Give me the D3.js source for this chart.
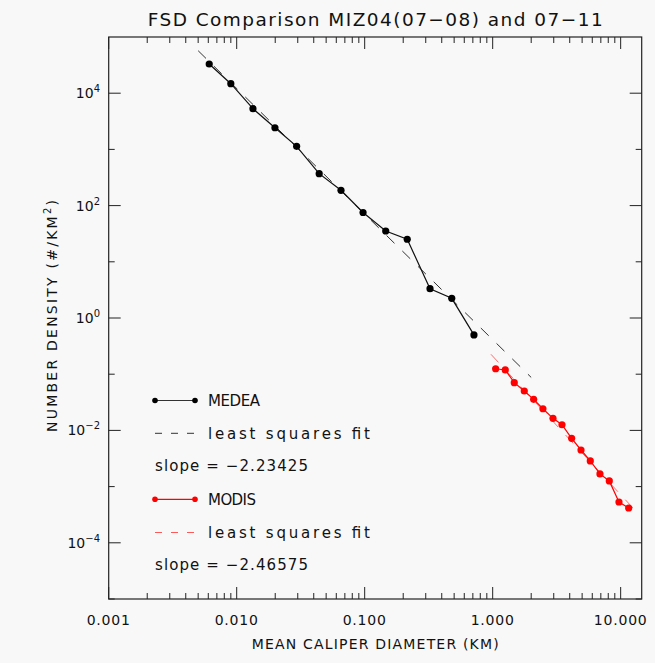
<!DOCTYPE html>
<html>
<head>
<meta charset="utf-8">
<script src="https://cdn.jsdelivr.net/npm/d3@7"></script>
<style>
  html, body { margin: 0; padding: 0; background: #f8f8f8; }
  svg { display: block; }
  text { font-family: "DejaVu Sans", sans-serif; fill: #111; }
</style>
</head>
<body>
<svg id="chart" width="655" height="663"></svg>
<script>
// ---------------- DATA ----------------
const medeaX = [0.0061, 0.0090, 0.0134, 0.0199, 0.0294, 0.0441, 0.0653, 0.0971, 0.146, 0.215, 0.324, 0.479, 0.714];
const medeaY = [33100, 14750, 5300, 2430, 1135, 370, 187, 75.4, 35.3, 25.2, 3.32, 2.24, 0.50];

const modisX = [1.055, 1.254, 1.475, 1.766, 2.09, 2.47, 2.96, 3.48, 4.14, 4.90, 5.79, 6.89, 8.15, 9.70, 11.55];
const modisY = [0.125, 0.119, 0.0707, 0.0502, 0.0357, 0.0243, 0.0164, 0.0126, 0.00722, 0.00448, 0.00286, 0.00168, 0.00126, 0.000532, 0.000416];

// least squares fit end points
const medeaFitX = [0.005, 2.0];
const medeaFitY = [57000, 0.0876];
const modisFitX = [0.97, 12.5];
const modisFitY = [0.226, 0.000414];

const xTickValues = [0.001, 0.01, 0.1, 1, 10];
const xTickLabels = ["0.001", "0.010", "0.100", "1.000", "10.000"];
const yTickValues = [1e-4, 1e-2, 1, 1e2, 1e4];
const yTickExponents = ["\u22124", "\u22122", "0", "2", "4"];

const legendLabels = ["MEDEA", "least squares fit", "slope = \u22122.23425", "MODIS", "least squares fit", "slope = \u22122.46575"];

const titleText = "FSD Comparison MIZ04(07\u221208) and 07\u221211";
const xTitle = "MEAN CALIPER DIAMETER (KM)";

// ---------------- LAYOUT ----------------
const L = 108.7, R = 641.7, T = 37, B = 599;
const svg = d3.select("#chart");

const x = d3.scaleLog().domain([0.001, 14.6]).range([L, R]);
const y = d3.scaleLog().domain([1e-5, 1e5]).range([B, T]);

const axisColor = "#222";

// frame
svg.append("rect").attr("x", L).attr("y", T).attr("width", R - L).attr("height", B - T)
  .attr("fill", "none").attr("stroke", axisColor).attr("stroke-width", 1.2);

// x ticks (bottom + top)
const xMinor = [];
for (let e = -3; e <= 1; e++) for (let m = 2; m <= 9; m++) { const v = m * Math.pow(10, e); if (v < 14.6) xMinor.push(v); }
const tickG = svg.append("g").attr("stroke", axisColor).attr("stroke-width", 1);
xTickValues.forEach(v => {
  tickG.append("line").attr("x1", x(v)).attr("x2", x(v)).attr("y1", B).attr("y2", B - 12);
  tickG.append("line").attr("x1", x(v)).attr("x2", x(v)).attr("y1", T).attr("y2", T + 12);
});
xMinor.forEach(v => {
  tickG.append("line").attr("x1", x(v)).attr("x2", x(v)).attr("y1", B).attr("y2", B - 6);
  tickG.append("line").attr("x1", x(v)).attr("x2", x(v)).attr("y1", T).attr("y2", T + 6);
});
// y ticks (left + right)
const yMinor = [1e-5, 1e-3, 1e-1, 10, 1e3];
yTickValues.forEach(v => {
  tickG.append("line").attr("y1", y(v)).attr("y2", y(v)).attr("x1", L).attr("x2", L + 12);
  tickG.append("line").attr("y1", y(v)).attr("y2", y(v)).attr("x1", R).attr("x2", R - 12);
});
yMinor.forEach(v => {
  tickG.append("line").attr("y1", y(v)).attr("y2", y(v)).attr("x1", L).attr("x2", L + 6);
  tickG.append("line").attr("y1", y(v)).attr("y2", y(v)).attr("x1", R).attr("x2", R - 6);
});

// x tick labels
xTickValues.forEach((v, i) => {
  svg.append("text").attr("x", x(v)).attr("y", 625).attr("text-anchor", "middle")
    .attr("font-size", 14).attr("letter-spacing", 0.8).text(xTickLabels[i]);
});
// y tick labels
yTickValues.forEach((v, i) => {
  const t = svg.append("text").attr("x", 100).attr("y", y(v) + 5).attr("text-anchor", "end").attr("font-size", 14);
  t.append("tspan").text("10");
  t.append("tspan").attr("dy", -6).attr("font-size", 10).text(yTickExponents[i]);
});

// title
svg.append("text").attr("x", (L + R) / 2).attr("y", 26).attr("text-anchor", "middle")
  .attr("font-size", 18.5).attr("textLength", 455).attr("lengthAdjust", "spacing").text(titleText);
// x title
svg.append("text").attr("x", (L + R) / 2).attr("y", 649).attr("text-anchor", "middle")
  .attr("font-size", 14).attr("textLength", 247).attr("lengthAdjust", "spacing").text(xTitle);
// y title
const yt = svg.append("text").attr("transform", "translate(57,316) rotate(-90)").attr("text-anchor", "middle")
  .attr("font-size", 14).attr("textLength", 232).attr("lengthAdjust", "spacing");
yt.append("tspan").text("NUMBER DENSITY (#/KM");
yt.append("tspan").attr("dy", -6).attr("font-size", 10).text("2");
yt.append("tspan").attr("dy", 6).text(")");

// fit lines
const line = d3.line().x(d => x(d[0])).y(d => y(d[1]));
svg.append("path").datum(medeaFitX.map((v, i) => [v, medeaFitY[i]]))
  .attr("d", line).attr("fill", "none").attr("stroke", "#333").attr("stroke-width", 1)
  .attr("stroke-dasharray", "11,11");
svg.append("path").datum(modisFitX.map((v, i) => [v, modisFitY[i]]))
  .attr("d", line).attr("fill", "none").attr("stroke", "#ff3030").attr("stroke-opacity", 0.7).attr("stroke-width", 1)
  .attr("stroke-dasharray", "11,11");

// data lines
const medea = medeaX.map((v, i) => [v, medeaY[i]]);
const modis = modisX.map((v, i) => [v, modisY[i]]);
svg.append("path").datum(medea).attr("d", line).attr("fill", "none").attr("stroke", "#111").attr("stroke-width", 1.2);
svg.append("path").datum(modis).attr("d", line).attr("fill", "none").attr("stroke", "#ff0000").attr("stroke-width", 1.2);
svg.append("g").selectAll("circle").data(medea).join("circle")
  .attr("cx", d => x(d[0])).attr("cy", d => y(d[1])).attr("r", 3.6).attr("fill", "#000");
svg.append("g").selectAll("circle").data(modis).join("circle")
  .attr("cx", d => x(d[0])).attr("cy", d => y(d[1])).attr("r", 3.6).attr("fill", "#ff0000");

// legend
const legY = [400.5, 433.3, 465.7, 499.3, 532.5, 564.5];
const lg = svg.append("g");
// MEDEA
lg.append("line").attr("x1", 155).attr("x2", 195).attr("y1", legY[0]).attr("y2", legY[0]).attr("stroke", "#333").attr("stroke-width", 1.2);
[155, 195].forEach(cx => lg.append("circle").attr("cx", cx).attr("cy", legY[0]).attr("r", 2.8).attr("fill", "#000"));
lg.append("line").attr("x1", 155).attr("x2", 195).attr("y1", legY[1]).attr("y2", legY[1]).attr("stroke", "#333").attr("stroke-width", 1).attr("stroke-dasharray", "7,9");
// MODIS
lg.append("line").attr("x1", 155).attr("x2", 195).attr("y1", legY[3]).attr("y2", legY[3]).attr("stroke", "#ff0000").attr("stroke-width", 1.2);
[155, 195].forEach(cx => lg.append("circle").attr("cx", cx).attr("cy", legY[3]).attr("r", 2.8).attr("fill", "#ff0000"));
lg.append("line").attr("x1", 155).attr("x2", 195).attr("y1", legY[4]).attr("y2", legY[4]).attr("stroke", "#ff3030").attr("stroke-opacity", 0.8).attr("stroke-width", 1).attr("stroke-dasharray", "7,9");

const legTextX = [208, 208, 155, 208, 208, 155];
const legTextW = [52, 162, 153, 48, 162, 153];
legendLabels.forEach((s, i) => {
  lg.append("text").attr("x", legTextX[i]).attr("y", legY[i] + 5.5).attr("font-size", 15)
    .attr("textLength", legTextW[i]).attr("lengthAdjust", "spacing").text(s);
});
</script>
</body>
</html>
